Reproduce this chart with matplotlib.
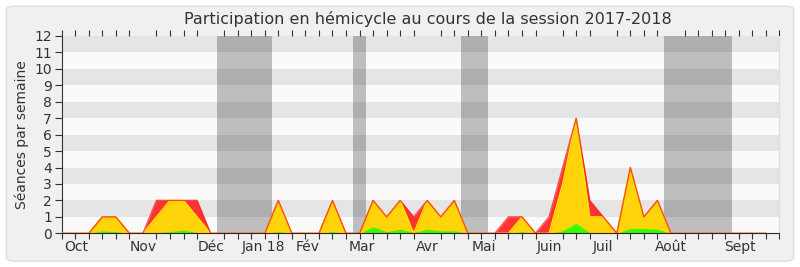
import matplotlib
matplotlib.use("Agg")
import matplotlib.pyplot as plt
from matplotlib.patches import FancyBboxPatch
import numpy as np

# weekly counts, one value per week of the session (week 0 = start of October)
weeks = list(range(53))
total = [0, 0, 0, 1, 1, 0, 0, 2, 2, 2, 2, 0, 0, 0, 0, 0, 2, 0, 0, 0,
         2, 0, 0, 2, 1, 2, 1, 2, 1, 2, 0, 0, 0, 1, 1, 0, 1, 4, 7, 2,
         1, 0, 4, 1, 2, 0, 0, 0, 0, 0, 0, 0, 0]
present = [0, 0, 0, 1, 1, 0, 0, 1, 2, 2, 1, 0, 0, 0, 0, 0, 2, 0, 0, 0,
           2, 0, 0, 2, 1, 2, 0, 2, 1, 2, 0, 0, 0, 0, 1, 0, 0, 3, 7, 1,
           1, 0, 4, 1, 2, 0, 0, 0, 0, 0, 0, 0, 0]
spoke = [0, 0, 0, 0.15, 0.1, 0, 0, 0.05, 0.1, 0.2, 0.05, 0, 0, 0, 0, 0, 0.1, 0, 0, 0,
         0.1, 0, 0, 0.4, 0.1, 0.25, 0.05, 0.25, 0.15, 0.15, 0, 0, 0, 0, 0.1, 0, 0, 0.15, 0.6, 0.05,
         0.05, 0, 0.3, 0.3, 0.25, 0, 0, 0, 0, 0, 0, 0, 0]

# parliamentary breaks (start week, end week)
breaks = [(11.5, 15.5), (21.5, 22.5), (29.5, 31.5), (44.5, 49.5)]

months = ["Oct", "Nov", "Déc", "Jan 18", "Fév", "Mar", "Avr", "Mai", "Juin", "Juil", "Août", "Sept"]
month_pos = [1.1, 6.0, 11.0, 14.9, 18.2, 22.2, 27.0, 31.2, 36.0, 40.0, 45.0, 50.1]

fig = plt.figure(figsize=(8, 2.67), dpi=100)
fig.patch.set_facecolor("white")
frame = FancyBboxPatch((0.008, 0.022), 0.984, 0.955, boxstyle="round,pad=0,rounding_size=0.012",
                       transform=fig.transFigure, facecolor="#f0f0f0", edgecolor="#dedede",
                       linewidth=1.0, zorder=-10)
fig.patches.append(frame)

ax = fig.add_axes([0.0771, 0.1262, 0.8970, 0.7390])
ax.set_xlim(0, 53)
ax.set_ylim(0, 12)
ax.set_facecolor("#fafafa")

# horizontal stripes
for k in range(1, 12, 2):
    ax.axhspan(k, k + 1, color="#e5e5e5", lw=0, zorder=0)

for a, b in breaks:
    ax.axvspan(a, b, color="black", alpha=0.24, lw=0, zorder=1)

x = np.array(weeks)
ax.fill_between(x, total, color="#ff3333", lw=0, zorder=2)
ax.fill_between(x, present, color="#ffd40a", lw=0, zorder=4)
ax.plot(x, present, color="#ffe600", lw=1.0, zorder=5)
ax.plot(x, total, color="#ff1a1a", lw=1.0, alpha=0.75, zorder=6)
ax.fill_between(x, spoke, color="#33ff00", lw=0, zorder=7)

ax.set_yticks(range(13))
ax.tick_params(axis="y", length=5, width=0.8, color="#333333", labelsize=10, labelcolor="#333333", pad=2)
ax.set_xticks(range(54), minor=True)
ax.set_xticks(month_pos)
ax.set_xticklabels(months)
ax.tick_params(axis="x", which="major", length=0, labelsize=10, labelcolor="#333333", pad=5)
ax.tick_params(axis="x", which="minor", length=4, width=0.8, color="#333333", top=True)

ax.spines["top"].set_visible(False)
ax.spines["right"].set_color("#dddddd")
ax.spines["left"].set_color("#333333")
ax.spines["bottom"].set_color("#3a2020")
ax.spines["bottom"].set_zorder(10)

ax.set_ylabel("Séances par semaine", fontsize=10, color="#333333", labelpad=4)
fig.text(0.535, 0.93, "Participation en hémicycle au cours de la session 2017-2018",
         ha="center", va="center", fontsize=11.5, color="#333333")

fig.savefig("out.png", dpi=100, facecolor=fig.get_facecolor())
